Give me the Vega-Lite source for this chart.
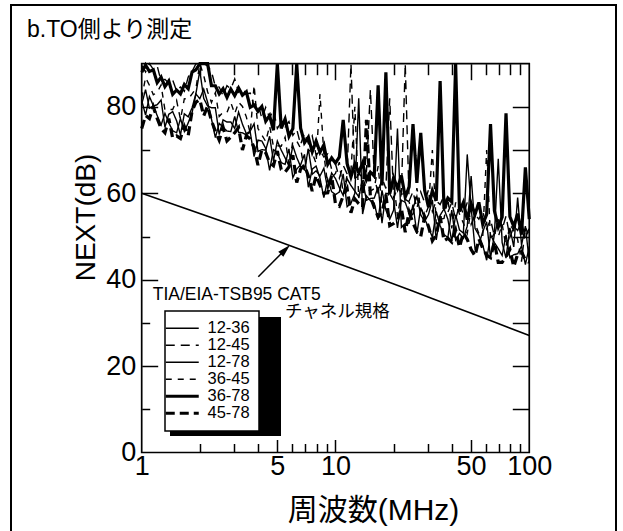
{
  "$schema": "https://vega.github.io/schema/vega-lite/v6.json",
  "width": 605,
  "height": 528,
  "autosize": {"type": "none"},
  "padding": {"left": 11, "top": 5, "right": 7, "bottom": 0},
  "background": "white",
  "title": {
    "text": "b.TO側より測定",
    "anchor": "start",
    "frame": "group",
    "orient": "top",
    "offset": -37,
    "dx": 16,
    "fontSize": 23,
    "fontWeight": "normal",
    "color": "black"
  },
  "config": {
    "font": "Liberation Sans, Noto Sans CJK JP",
    "view": {"stroke": "black", "strokeWidth": 2},
    "axis": {
      "domain": false,
      "grid": false,
      "tickColor": "black",
      "tickWidth": 1.5,
      "labelColor": "black",
      "titleColor": "black",
      "labelFont": "Liberation Sans, Noto Sans CJK JP",
      "titleFont": "Liberation Sans, Noto Sans CJK JP",
      "titleFontWeight": "normal",
      "labelOverlap": false,
      "labelFlush": false
    }
  },
  "datasets": {
    "next": [
      {"f": 1, "12-36": 81.5, "12-45": 89.6, "12-78": 80.6, "36-45": 82, "36-78": 88, "45-78": 75},
      {"f": 1.047, "12-36": 78.1, "12-45": 88.1, "12-78": 84, "36-45": 86.8, "36-78": 89.7, "45-78": 78},
      {"f": 1.096, "12-36": 82.4, "12-45": 90, "12-78": 79.7, "36-45": 85, "36-78": 88.2, "45-78": 77.3},
      {"f": 1.148, "12-36": 80.3, "12-45": 88.7, "12-78": 80.2, "36-45": 82.8, "36-78": 88.6, "45-78": 80},
      {"f": 1.202, "12-36": 78, "12-45": 89.5, "12-78": 80.5, "36-45": 83.4, "36-78": 85.6, "45-78": 77.3},
      {"f": 1.259, "12-36": 75.8, "12-45": 85.9, "12-78": 81.6, "36-45": 85.1, "36-78": 86.9, "45-78": 75},
      {"f": 1.318, "12-36": 78.5, "12-45": 86.4, "12-78": 75.3, "36-45": 79.3, "36-78": 84.7, "45-78": 74},
      {"f": 1.38, "12-36": 76.3, "12-45": 85.5, "12-78": 78.3, "36-45": 79.4, "36-78": 86, "45-78": 77.3},
      {"f": 1.445, "12-36": 74.5, "12-45": 86.2, "12-78": 78.9, "36-45": 79.4, "36-78": 82.9, "45-78": 72.8},
      {"f": 1.514, "12-36": 74, "12-45": 83.7, "12-78": 76.8, "36-45": 81.5, "36-78": 83.9, "45-78": 73.3},
      {"f": 1.585, "12-36": 77.3, "12-45": 84.6, "12-78": 73.5, "36-45": 77.1, "36-78": 83, "45-78": 72.7},
      {"f": 1.66, "12-36": 74.3, "12-45": 83.6, "12-78": 78.4, "36-45": 81.9, "36-78": 85.2, "45-78": 75.5},
      {"f": 1.738, "12-36": 76.3, "12-45": 86.9, "12-78": 77.7, "36-45": 81.8, "36-78": 84.2, "45-78": 73.4},
      {"f": 1.82, "12-36": 78.7, "12-45": 88.2, "12-78": 79.8, "36-45": 83, "36-78": 88.1, "45-78": 79.1},
      {"f": 1.905, "12-36": 83, "12-45": 90, "12-78": 83.1, "36-45": 84.3, "36-78": 88.6, "45-78": 81.1},
      {"f": 1.995, "12-36": 81.9, "12-45": 90, "12-78": 88.4, "36-45": 90, "36-78": 90, "45-78": 81.7},
      {"f": 2.089, "12-36": 84.1, "12-45": 90, "12-78": 82, "36-45": 87.3, "36-78": 90, "45-78": 77.9},
      {"f": 2.188, "12-36": 81.1, "12-45": 89.5, "12-78": 80.2, "36-45": 83.5, "36-78": 90, "45-78": 80.2},
      {"f": 2.291, "12-36": 77.2, "12-45": 88.2, "12-78": 79.8, "36-45": 81, "36-78": 84.9, "45-78": 76.8},
      {"f": 2.399, "12-36": 72.9, "12-45": 84.7, "12-78": 79.8, "36-45": 83.3, "36-78": 84.9, "45-78": 74.4},
      {"f": 2.512, "12-36": 76.2, "12-45": 84.6, "12-78": 73.6, "36-45": 77.8, "36-78": 83, "45-78": 72.3},
      {"f": 2.63, "12-36": 75.3, "12-45": 82.6, "12-78": 77, "36-45": 78.8, "36-78": 84.2, "45-78": 75.3},
      {"f": 2.754, "12-36": 74.4, "12-45": 84.9, "12-78": 76.5, "36-45": 78.7, "36-78": 82.2, "45-78": 72.1},
      {"f": 2.884, "12-36": 74.3, "12-45": 84.2, "12-78": 76.5, "36-45": 81, "36-78": 84.1, "45-78": 73},
      {"f": 3.02, "12-36": 77.8, "12-45": 86.5, "12-78": 75, "36-45": 78.4, "36-78": 82.6, "45-78": 74},
      {"f": 3.162, "12-36": 74.1, "12-45": 83.4, "12-78": 78.8, "36-45": 81.1, "36-78": 84.4, "45-78": 75.2},
      {"f": 3.311, "12-36": 74, "12-45": 84.4, "12-78": 76, "36-45": 80.1, "36-78": 82.7, "45-78": 70},
      {"f": 3.467, "12-36": 73.5, "12-45": 83, "12-78": 73.8, "36-45": 77.7, "36-78": 83.5, "45-78": 73.3},
      {"f": 3.631, "12-36": 74.2, "12-45": 83.2, "12-78": 74.4, "36-45": 73.9, "36-78": 79.9, "45-78": 72.6},
      {"f": 3.802, "12-36": 68.5, "12-45": 80.2, "12-78": 76.1, "36-45": 85, "36-78": 80.4, "45-78": 70.6},
      {"f": 3.981, "12-36": 72.3, "12-45": 80.8, "12-78": 69.7, "36-45": 75, "36-78": 79, "45-78": 66.5},
      {"f": 4.169, "12-36": 72.1, "12-45": 77.3, "12-78": 70.1, "36-45": 73.5, "36-78": 80.1, "45-78": 70.1},
      {"f": 4.365, "12-36": 70.4, "12-45": 79.9, "12-78": 70, "36-45": 72, "36-78": 76.7, "45-78": 69.4},
      {"f": 4.571, "12-36": 65.3, "12-45": 77.5, "12-78": 73.2, "36-45": 75.6, "36-78": 78, "45-78": 67.1},
      {"f": 4.786, "12-36": 70.1, "12-45": 79.3, "12-78": 67.5, "36-45": 70.8, "36-78": 74.6, "45-78": 66.4},
      {"f": 5.012, "12-36": 69.4, "12-45": 75, "12-78": 72.1, "36-45": 71, "36-78": 90, "45-78": 69.8},
      {"f": 5.248, "12-36": 67.1, "12-45": 76.4, "12-78": 70, "36-45": 70.9, "36-78": 75, "45-78": 65.5},
      {"f": 5.495, "12-36": 66.7, "12-45": 75.4, "12-78": 68.2, "36-45": 73, "36-78": 77.2, "45-78": 64.9},
      {"f": 5.754, "12-36": 70.3, "12-45": 76.6, "12-78": 66.3, "36-45": 66.4, "36-78": 73.2, "45-78": 66.1},
      {"f": 6.026, "12-36": 63.6, "12-45": 73.4, "12-78": 71, "36-45": 72.1, "36-78": 75, "45-78": 68.8},
      {"f": 6.31, "12-36": 65.6, "12-45": 74.8, "12-78": 68.3, "36-45": 72.1, "36-78": 90, "45-78": 62.5},
      {"f": 6.607, "12-36": 66.6, "12-45": 71.3, "12-78": 66.2, "36-45": 70.4, "36-78": 75.1, "45-78": 65.6},
      {"f": 6.918, "12-36": 69, "12-45": 73.9, "12-78": 65.5, "36-45": 65.3, "36-78": 71.7, "45-78": 66.5},
      {"f": 7.244, "12-36": 61.4, "12-45": 71.5, "12-78": 70.3, "36-45": 70.1, "36-78": 73, "45-78": 64},
      {"f": 7.586, "12-36": 65.6, "12-45": 73.3, "12-78": 64.4, "36-45": 69.4, "36-78": 69.6, "45-78": 60.5},
      {"f": 7.943, "12-36": 66.3, "12-45": 68.8, "12-78": 65.2, "36-45": 66.9, "36-78": 72.1, "45-78": 64.1},
      {"f": 8.318, "12-36": 63.5, "12-45": 69.9, "12-78": 64, "36-45": 83, "36-78": 69.5, "45-78": 61.9},
      {"f": 8.71, "12-36": 59, "12-45": 68.4, "12-78": 65.8, "36-45": 69.1, "36-78": 71.2, "45-78": 60},
      {"f": 9.12, "12-36": 63.3, "12-45": 69.1, "12-78": 60.9, "36-45": 61.8, "36-78": 66.7, "45-78": 60.1},
      {"f": 9.55, "12-36": 60.4, "12-45": 65.6, "12-78": 64.7, "36-45": 63.6, "36-78": 68.2, "45-78": 64.1},
      {"f": 10, "12-36": 59.7, "12-45": 66.8, "12-78": 63.4, "36-45": 64.6, "36-78": 67, "45-78": 57.5},
      {"f": 10.47, "12-36": 60.3, "12-45": 63.5, "12-78": 61.3, "36-45": 67.2, "36-78": 68.4, "45-78": 57},
      {"f": 10.96, "12-36": 64.5, "12-45": 66.5, "12-78": 59.5, "36-45": 59.8, "36-78": 77, "45-78": 59.4},
      {"f": 11.48, "12-36": 56.9, "12-45": 64.5, "12-78": 63.4, "36-45": 64.2, "36-78": 66.9, "45-78": 61.1},
      {"f": 12.02, "12-36": 57.7, "12-45": 90, "12-78": 61.8, "36-45": 65.3, "36-78": 63.8, "45-78": 55.5},
      {"f": 12.59, "12-36": 60, "12-45": 62.8, "12-78": 60.5, "36-45": 80, "36-78": 66.8, "45-78": 58.7},
      {"f": 13.18, "12-36": 82, "12-45": 64.6, "12-78": 59.2, "36-45": 58.9, "36-78": 64.8, "45-78": 57.6},
      {"f": 13.8, "12-36": 55.2, "12-45": 63.7, "12-78": 63, "36-45": 63.7, "36-78": 67, "45-78": 56.8},
      {"f": 14.45, "12-36": 59.4, "12-45": 65.1, "12-78": 58.4, "36-45": 61, "36-78": 63.1, "45-78": 77},
      {"f": 15.14, "12-36": 58.3, "12-45": 84, "12-78": 58.8, "36-45": 60.5, "36-78": 64.9, "45-78": 59.2},
      {"f": 15.85, "12-36": 57.7, "12-45": 63.9, "12-78": 58.9, "36-45": 61.1, "36-78": 64, "45-78": 56.8},
      {"f": 16.6, "12-36": 53.9, "12-45": 59.9, "12-78": 61.5, "36-45": 66.3, "36-78": 85, "45-78": 54.5},
      {"f": 17.38, "12-36": 60.7, "12-45": 63.6, "12-78": 53.1, "36-45": 56.8, "36-78": 61.8, "45-78": 55.6},
      {"f": 18.2, "12-36": 56.1, "12-45": 61.1, "12-78": 60, "36-45": 57.8, "36-78": 88, "45-78": 59.7},
      {"f": 19.05, "12-36": 54, "12-45": 82, "12-78": 59.9, "36-45": 60.7, "36-78": 59.9, "45-78": 52.5},
      {"f": 19.95, "12-36": 56.1, "12-45": 58.8, "12-78": 58.3, "36-45": 63, "36-78": 63.6, "45-78": 53},
      {"f": 20.89, "12-36": 75, "12-45": 61.2, "12-78": 52, "36-45": 54.7, "36-78": 61.2, "45-78": 53.8},
      {"f": 21.88, "12-36": 52.1, "12-45": 60.2, "12-78": 58.4, "36-45": 60.1, "36-78": 64.1, "45-78": 56.5},
      {"f": 22.91, "12-36": 53, "12-45": 90, "12-78": 57.9, "36-45": 58.6, "36-78": 59.1, "45-78": 51},
      {"f": 23.99, "12-36": 53.1, "12-45": 58.2, "12-78": 55.4, "36-45": 58, "36-78": 61.5, "45-78": 55.7},
      {"f": 25.12, "12-36": 57.4, "12-45": 60.4, "12-78": 56.5, "36-45": 54.3, "36-78": 76, "45-78": 53.1},
      {"f": 26.3, "12-36": 50.6, "12-45": 56.5, "12-78": 59.3, "36-45": 61.2, "36-78": 62.4, "45-78": 51.1},
      {"f": 27.54, "12-36": 56.7, "12-45": 60.3, "12-78": 55, "36-45": 56.7, "36-78": 74, "45-78": 50},
      {"f": 28.84, "12-36": 54.1, "12-45": 57.9, "12-78": 53.5, "36-45": 54.7, "36-78": 60.7, "45-78": 54.6},
      {"f": 30.2, "12-36": 52.1, "12-45": 60.8, "12-78": 55.1, "36-45": 56.9, "36-78": 56.8, "45-78": 52.3},
      {"f": 31.62, "12-36": 49.8, "12-45": 55.8, "12-78": 58.5, "36-45": 70, "36-78": 60.6, "45-78": 49},
      {"f": 33.11, "12-36": 55.8, "12-45": 58.3, "12-78": 49.2, "36-45": 53, "36-78": 58.3, "45-78": 50.4},
      {"f": 34.67, "12-36": 52.5, "12-45": 57.4, "12-78": 54.9, "36-45": 54, "36-78": 86, "45-78": 54.7},
      {"f": 36.31, "12-36": 50.4, "12-45": 59.4, "12-78": 56.4, "36-45": 54.2, "36-78": 56.4, "45-78": 49},
      {"f": 38.02, "12-36": 49.8, "12-45": 55.6, "12-78": 54, "36-45": 58.6, "36-78": 58.9, "45-78": 49.6},
      {"f": 39.81, "12-36": 56.1, "12-45": 57.9, "12-78": 48.9, "36-45": 51.9, "36-78": 58, "45-78": 48.7},
      {"f": 41.69, "12-36": 49.2, "12-45": 53.9, "12-78": 55, "36-45": 57.9, "36-78": 90, "45-78": 51.5},
      {"f": 43.65, "12-36": 50.7, "12-45": 57.6, "12-78": 51.5, "36-45": 55.2, "36-78": 55.8, "45-78": 47.5},
      {"f": 45.71, "12-36": 49.6, "12-45": 55.1, "12-78": 50.8, "36-45": 53.1, "36-78": 57.9, "45-78": 50.9},
      {"f": 47.86, "12-36": 52.4, "12-45": 57.9, "12-78": 69, "36-45": 50.7, "36-78": 53.9, "45-78": 49.3},
      {"f": 50.12, "12-36": 64, "12-45": 52.8, "12-78": 56.7, "36-45": 56.5, "36-78": 57.6, "45-78": 47},
      {"f": 52.48, "12-36": 51.9, "12-45": 55.1, "12-78": 47.2, "36-45": 53, "36-78": 55.1, "45-78": 45.5},
      {"f": 54.95, "12-36": 50.3, "12-45": 54, "12-78": 48.2, "36-45": 50.7, "36-78": 57.9, "45-78": 49.4},
      {"f": 57.54, "12-36": 48, "12-45": 56, "12-78": 51.1, "36-45": 49.9, "36-78": 52.8, "45-78": 47.3},
      {"f": 60.26, "12-36": 44.5, "12-45": 51.8, "12-78": 53.4, "36-45": 70, "36-78": 55.1, "45-78": 45.7},
      {"f": 63.1, "12-36": 50.4, "12-45": 53.9, "12-78": 45, "36-45": 49.1, "36-78": 76, "45-78": 45.1},
      {"f": 66.07, "12-36": 48.6, "12-45": 50.1, "12-78": 50.5, "36-45": 50.8, "36-78": 56, "45-78": 48.7},
      {"f": 69.18, "12-36": 47.2, "12-45": 54, "12-78": 68, "36-45": 49.9, "36-78": 52.2, "45-78": 44},
      {"f": 72.44, "12-36": 45.6, "12-45": 51.7, "12-78": 48.6, "36-45": 52.9, "36-78": 54.5, "45-78": 44},
      {"f": 75.86, "12-36": 50.4, "12-45": 54.7, "12-78": 45, "36-45": 47.6, "36-78": 78.5, "45-78": 45.3},
      {"f": 79.43, "12-36": 45.1, "12-45": 49.8, "12-78": 52, "36-45": 52.8, "36-78": 54.6, "45-78": 47},
      {"f": 83.18, "12-36": 45.8, "12-45": 52.3, "12-78": 47.6, "36-45": 51.4, "36-78": 52.3, "45-78": 43},
      {"f": 87.1, "12-36": 46, "12-45": 51.4, "12-78": 59, "36-45": 49.3, "36-78": 55.3, "45-78": 45.9},
      {"f": 91.2, "12-36": 47.8, "12-45": 53.4, "12-78": 48, "36-45": 44.2, "36-78": 50.4, "45-78": 46.5},
      {"f": 95.5, "12-36": 43.5, "12-45": 49.6, "12-78": 52.4, "36-45": 52.1, "36-78": 66, "45-78": 44.5},
      {"f": 100, "12-36": 47.7, "12-45": 51.9, "12-78": 44.2, "36-45": 50.3, "36-78": 54, "45-78": 44}
    ],
    "cat5": [
      {"f": 1, "v": 60},
      {"f": 4, "v": 50.6},
      {"f": 8, "v": 45.6},
      {"f": 10, "v": 44},
      {"f": 16, "v": 40.6},
      {"f": 20, "v": 39},
      {"f": 25, "v": 37.4},
      {"f": 31.25, "v": 35.7},
      {"f": 62.5, "v": 30.6},
      {"f": 100, "v": 27.1}
    ],
    "notes": [
      {"label": "TIA/EIA-TSB95 CAT5", "f": 1.14, "v": 36.5},
      {"label": "チャネル規格", "f": 5.49, "v": 32.5}
    ]
  },
  "layer": [
    {
      "data": {"values": [{}]},
      "mark": {"type": "rect", "filled": false, "color": "black", "strokeWidth": 1.7},
      "encoding": {
        "x": {
          "datum": 1, "type": "quantitative",
          "scale": {"type": "log", "domain": [0.21163, 280.25], "nice": false},
          "axis": {"orient": "top", "offset": -447.5, "values": [2, 3, 4, 6, 7, 8, 9, 20, 30, 40, 60, 70, 80, 90], "tickSize": 9, "labels": false, "title": null}
        },
        "x2": {"datum": 100},
        "y": {
          "datum": 0, "type": "quantitative",
          "scale": {"domain": [-18.634, 103.588], "nice": false, "zero": false},
          "axis": {"orient": "right", "offset": -474.3, "values": [10, 30, 50, 70], "tickSize": 8, "labels": false, "title": null}
        },
        "y2": {"datum": 90}
      }
    },
    {
      "data": {"name": "cat5"},
      "mark": {"type": "line", "color": "black", "strokeWidth": 1.6},
      "encoding": {
        "x": {
          "field": "f", "type": "quantitative",
          "scale": {"type": "log", "domain": [0.21163, 280.25], "nice": false},
          "axis": {"orient": "top", "offset": -447.5, "values": [5, 10, 50], "tickSize": 13, "labels": false, "title": null}
        },
        "y": {
          "field": "v", "type": "quantitative",
          "scale": {"domain": [-18.634, 103.588], "nice": false, "zero": false},
          "axis": {"orient": "right", "offset": -474.3, "values": [20, 40, 60, 80], "tickSize": 16, "labels": false, "title": null}
        }
      }
    },
    {
      "data": {"name": "cat5"},
      "mark": {"type": "line", "strokeOpacity": 0, "strokeWidth": 0},
      "encoding": {
        "x": {"field": "f", "type": "quantitative", "scale": {"type": "log"}, "axis": null},
        "y": {"field": "v", "type": "quantitative", "axis": null},
        "stroke": {
          "field": "v", "type": "quantitative",
          "scale": {"range": ["black", "black"]},
          "legend": {
            "type": "gradient", "direction": "vertical", "orient": "none",
            "legendX": 159, "legendY": 312, "title": null,
            "gradientLength": 119, "gradientThickness": 111,
            "gradientStrokeColor": "black", "gradientStrokeWidth": 0,
            "padding": 0, "labelExpr": "''", "labelFontSize": 0.1, "labelOffset": 0,
            "zindex": 1
          }
        }
      }
    },
    {
      "data": {"name": "next"},
      "transform": [{"fold": ["12-36", "12-45", "12-78", "36-45", "36-78", "45-78"], "as": ["s", "v"]}],
      "mark": {"type": "line", "color": "black"},
      "encoding": {
        "x": {
          "field": "f", "type": "quantitative",
          "scale": {"type": "log", "domain": [0.21163, 280.25], "nice": false},
          "axis": {
            "orient": "bottom", "offset": -80.5, "values": [1, 5, 10, 50, 100],
            "ticks": false, "tickSize": 0, "labelPadding": 1, "labelFontSize": 27,
            "title": "周波数(MHz)", "titleFontSize": 30, "titleX": 362, "titleY": 58,
            "titleAlign": "center", "titleBaseline": "middle"
          }
        },
        "y": {
          "field": "v", "type": "quantitative",
          "scale": {"domain": [-18.634, 103.588], "nice": false, "zero": false},
          "axis": {
            "orient": "left", "offset": -130.7, "values": [0, 20, 40, 60, 80],
            "ticks": false, "tickSize": 0, "labelPadding": 6, "labelFontSize": 27,
            "title": "NEXT(dB)", "titleFontSize": 28, "titleAngle": -90, "titleX": -55.7, "titleY": 212,
            "titleAlign": "center", "titleBaseline": "middle"
          }
        },
        "strokeDash": {
          "field": "s", "type": "nominal",
          "scale": {
            "domain": ["12-36", "12-45", "12-78", "36-45", "36-78", "45-78"],
            "range": [[1, 0], [9, 6], [1, 0], [6, 6], [1, 0], [9, 5]]
          },
          "legend": {
            "type": "symbol", "orient": "none", "legendX": 154, "legendY": 306, "title": null,
            "fillColor": "white", "strokeColor": "black", "padding": 9,
            "symbolType": "stroke", "symbolSize": 1089, "symbolStrokeColor": "black", "symbolStrokeWidth": 1.3,
            "labelFont": "Liberation Sans", "labelFontSize": 16.5, "labelColor": "black",
            "labelOffset": 17, "rowPadding": 0, "zindex": 2,
            "encode": {
              "legend": {"update": {"strokeWidth": {"value": 1.5}}},
              "symbols": {"update": {"strokeWidth": {"signal": "datum.value === '36-78' || datum.value === '45-78' ? 3.2 : 1.3"}}}
            }
          }
        },
        "strokeWidth": {
          "condition": {"test": "datum.s === '36-78' || datum.s === '45-78'", "value": 3.2},
          "value": 1.4
        }
      }
    },
    {
      "data": {"values": [{}]},
      "mark": {"type": "rule", "color": "black", "strokeWidth": 1.5},
      "encoding": {
        "x": {
          "datum": 3.997, "type": "quantitative",
          "scale": {"type": "log"},
          "axis": {"orient": "bottom", "offset": -469.3, "values": [5, 10, 50], "tickSize": 16, "labels": false, "title": null}
        },
        "x2": {"datum": 5.4},
        "y": {
          "datum": 40.69, "type": "quantitative",
          "axis": {"orient": "left", "offset": -518.3, "values": [10, 20, 30, 40, 50, 60, 70, 80], "tickSize": 17, "labels": false, "title": null}
        },
        "y2": {"datum": 46.6}
      }
    },
    {
      "data": {"values": [{}]},
      "mark": {"type": "point", "shape": "M0,0L-0.55,2L0.55,2Z", "filled": true, "color": "black", "size": 169, "angle": 45, "opacity": 1},
      "encoding": {
        "x": {
          "datum": 5.824, "type": "quantitative",
          "scale": {"type": "log"},
          "axis": {"orient": "bottom", "offset": -469.3, "values": [2, 3, 4, 6, 7, 8, 9, 20, 30, 40, 60, 70, 80, 90], "tickSize": 11, "labels": false, "title": null}
        },
        "y": {"datum": 48.03, "type": "quantitative", "axis": null}
      }
    },
    {
      "data": {"name": "notes"},
      "mark": {"type": "text", "align": "left", "baseline": "middle", "color": "black", "fontSize": 17.5},
      "encoding": {
        "x": {"field": "f", "type": "quantitative", "scale": {"type": "log"}, "axis": null},
        "y": {"field": "v", "type": "quantitative", "axis": null},
        "text": {"field": "label"}
      }
    }
  ],
  "resolve": {"axis": {"x": "independent", "y": "independent"}}
}
